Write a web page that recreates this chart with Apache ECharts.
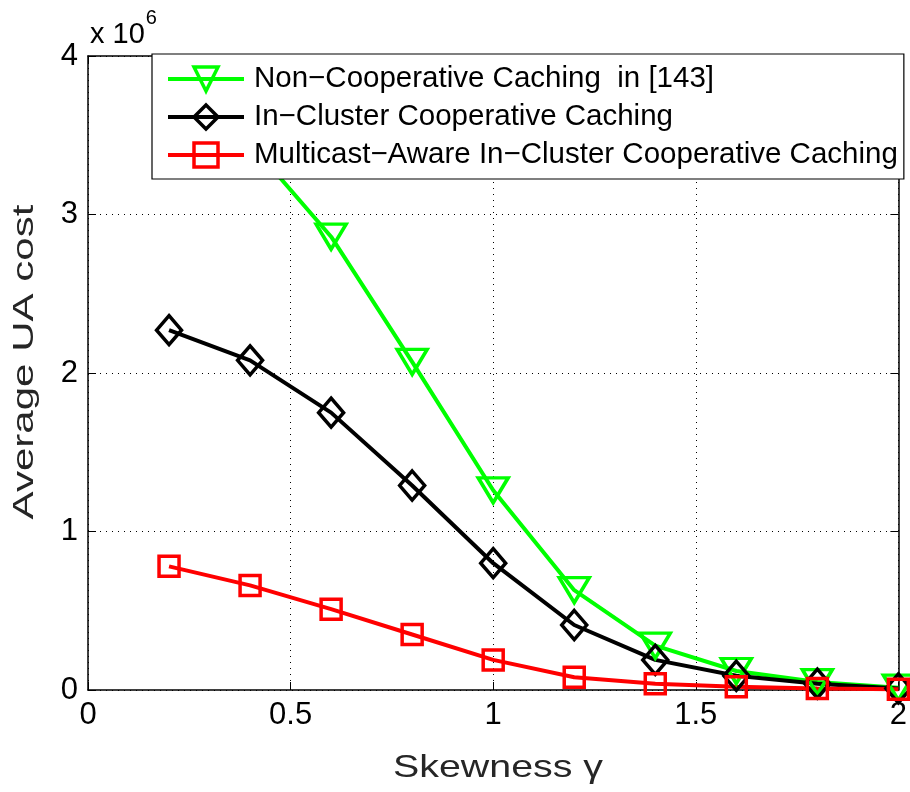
<!DOCTYPE html>
<html>
<head>
<meta charset="utf-8">
<script src="https://cdn.jsdelivr.net/npm/echarts@6/dist/echarts.min.js"></script>
<style>
  html, body { margin: 0; padding: 0; background: #fff; }
  #chart { width: 910px; height: 792px; }
</style>
</head>
<body>
<div id="chart"></div>
<script>
// Skewness values on the x axis
const skewness = [0.2, 0.4, 0.6, 0.8, 1.0, 1.2, 1.4, 1.6, 1.8, 2.0];

// Average UA cost, in units of 10^6
const nonCooperative = [4.10, 3.45, 2.86, 2.07, 1.26, 0.63, 0.28, 0.12, 0.05, 0.015];
const inCluster = [2.27, 2.08, 1.75, 1.29, 0.80, 0.41, 0.19, 0.09, 0.04, 0.01];
const multicastAware = [0.78, 0.66, 0.51, 0.35, 0.19, 0.08, 0.04, 0.02, 0.01, 0.005];

const seriesNames = [
  'Non\u2212Cooperative Caching  in [143]',
  'In\u2212Cluster Cooperative Caching',
  'Multicast\u2212Aware In\u2212Cluster Cooperative Caching'
];

const xTicks = ['0', '0.5', '1', '1.5', '2'];
const yTicks = ['0', '1', '2', '3', '4'];

const xTitle = 'Skewness \u03b3';
const yTitle = 'Average UA cost';

const FONT = '"Liberation Sans", Arial, sans-serif';

function pairs(values) {
  return skewness.map((x, i) => [x, values[i]]);
}

function lineSeries(name, values, color, symbol, size, rotate) {
  return {
    name: name,
    type: 'line',
    data: pairs(values),
    xAxisIndex: 0,
    yAxisIndex: 0,
    clip: true,
    symbol: symbol,
    symbolSize: size,
    symbolRotate: rotate || 0,
    showAllSymbol: true,
    lineStyle: { color: color, width: 4 },
    itemStyle: { color: 'rgba(255,255,255,0)', borderColor: color, borderWidth: 3.5 },
    emphasis: { disabled: true },
    z: 3
  };
}

const axisLine = { show: true, onZero: false, lineStyle: { color: '#000', width: 1.5 } };
const axisTick = { show: true, inside: true, length: 8, lineStyle: { color: '#000', width: 1 } };
const gridLine = { show: true, lineStyle: { color: '#000', type: [1, 5], width: 1 } };

const chart = echarts.init(document.getElementById('chart'), null, { renderer: 'canvas' });

chart.setOption({
  animation: false,
  backgroundColor: '#fff',
  grid: { left: 88, right: 10, top: 56, bottom: 102, containLabel: false },
  legend: {
    orient: 'vertical',
    left: 152,
    top: 54,
    itemWidth: 76,
    itemHeight: 30,
    itemGap: 8,
    padding: [10, 6, 9, 14],
    backgroundColor: '#fff',
    borderColor: '#000',
    borderWidth: 1.2,
    data: seriesNames,
    lineStyle: { width: 4 },
    itemStyle: { borderWidth: 3.5 },
    textStyle: { fontFamily: FONT, fontSize: 29.5, color: '#000', lineHeight: 30, padding: [0, 0, 0, 5] },
    z: 10
  },
  xAxis: [
    {
      type: 'value', min: 0, max: 2, interval: 0.5,
      axisLine: axisLine,
      axisTick: axisTick,
      axisLabel: {
        fontFamily: FONT, fontSize: 31, color: '#000', margin: 10,
        formatter: (v) => xTicks[Math.round(v / 0.5)]
      },
      splitLine: gridLine
    },
    {
      type: 'value', min: 0, max: 2, interval: 0.5, position: 'top',
      axisLine: axisLine, axisTick: axisTick,
      axisLabel: { show: false }, splitLine: { show: false }
    }
  ],
  yAxis: [
    {
      type: 'value', min: 0, max: 4, interval: 1,
      axisLine: axisLine,
      axisTick: axisTick,
      axisLabel: {
        fontFamily: FONT, fontSize: 31, color: '#000', margin: 10,
        formatter: (v) => yTicks[Math.round(v)]
      },
      splitLine: gridLine
    },
    {
      type: 'value', min: 0, max: 4, interval: 1, position: 'right',
      axisLine: axisLine, axisTick: axisTick,
      axisLabel: { show: false }, splitLine: { show: false }
    }
  ],
  graphic: [
    // exponent of the y axis scale
    {
      type: 'text',
      left: 90,
      top: 8,
      style: {
        text: '{b|x 10}{s|6}',
        rich: {
          b: { fontFamily: FONT, fontSize: 29, fill: '#000', verticalAlign: 'bottom', padding: [12, 0, 0, 0] },
          s: { fontFamily: FONT, fontSize: 20, fill: '#000', verticalAlign: 'top', padding: [0, 0, 14, 1] }
        }
      }
    },
    // x axis title
    {
      type: 'text',
      x: 498,
      y: 768,
      scaleX: 1.23,
      style: {
        text: xTitle,
        fontFamily: FONT, fontSize: 32, fill: '#262626',
        align: 'center', verticalAlign: 'middle'
      }
    },
    // y axis title
    {
      type: 'text',
      x: 25,
      y: 362,
      rotation: Math.PI / 2,
      scaleX: 1.45,
      style: {
        text: yTitle,
        fontFamily: FONT, fontSize: 29, fill: '#262626',
        align: 'center', verticalAlign: 'middle'
      }
    }
  ],
  series: [
    lineSeries(seriesNames[0], nonCooperative, '#00ff00', 'triangle', [30, 25], 180),
    lineSeries(seriesNames[1], inCluster, '#000000', 'diamond', [25, 29], 0),
    lineSeries(seriesNames[2], multicastAware, '#ff0000', 'rect', 20, 0)
  ]
});
</script>
</body>
</html>
